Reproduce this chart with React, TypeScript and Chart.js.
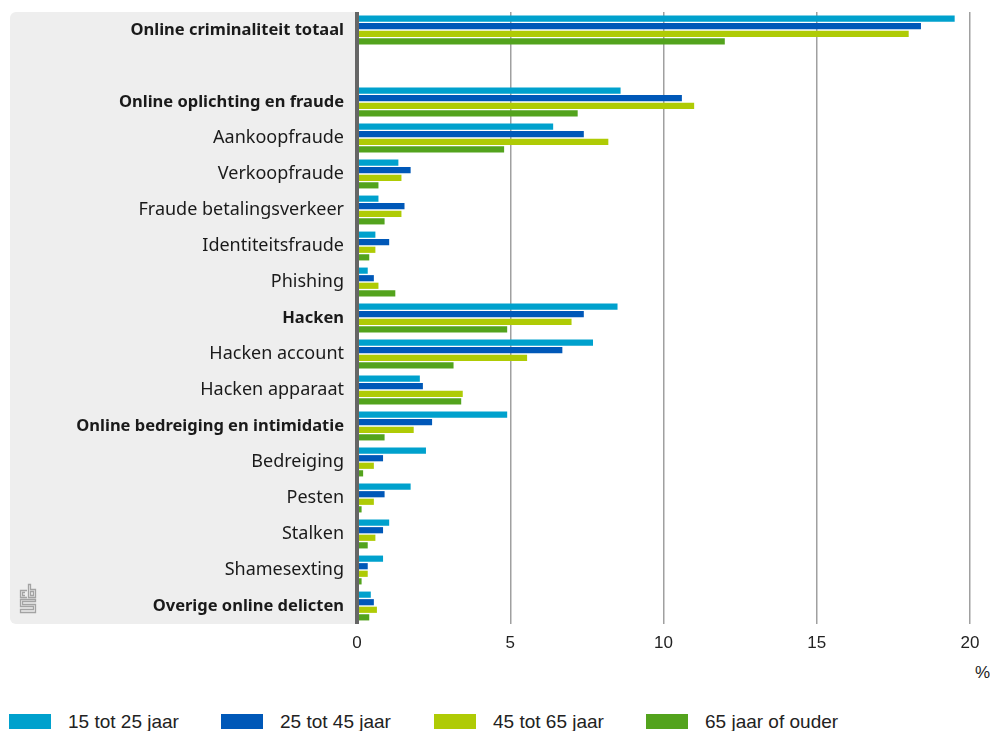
import React, { useEffect, useRef } from "react";
import { Chart, registerables } from "chart.js";

Chart.register(...registerables);

const categories: string[] = [
  "Online criminaliteit totaal",
  "",
  "Online oplichting en fraude",
  "Aankoopfraude",
  "Verkoopfraude",
  "Fraude betalingsverkeer",
  "Identiteitsfraude",
  "Phishing",
  "Hacken",
  "Hacken account",
  "Hacken apparaat",
  "Online bedreiging en intimidatie",
  "Bedreiging",
  "Pesten",
  "Stalken",
  "Shamesexting",
  "Overige online delicten",
];

const boldCategories: string[] = [
  "Online criminaliteit totaal",
  "Online oplichting en fraude",
  "Hacken",
  "Online bedreiging en intimidatie",
  "Overige online delicten",
];

const seriesLabels: string[] = ["15 tot 25 jaar", "25 tot 45 jaar", "45 tot 65 jaar", "65 jaar of ouder"];
const seriesColors: string[] = ["#00a1cd", "#0058b8", "#afcb05", "#53a31d"];

const age15to25: (number | null)[] = [19.5, null, 8.6, 6.4, 1.35, 0.7, 0.6, 0.35, 8.5, 7.7, 2.05, 4.9, 2.25, 1.75, 1.05, 0.85, 0.45];
const age25to45: (number | null)[] = [18.4, null, 10.6, 7.4, 1.75, 1.55, 1.05, 0.55, 7.4, 6.7, 2.15, 2.45, 0.85, 0.9, 0.85, 0.35, 0.55];
const age45to65: (number | null)[] = [18.0, null, 11.0, 8.2, 1.45, 1.45, 0.6, 0.7, 7.0, 5.55, 3.45, 1.85, 0.55, 0.55, 0.6, 0.35, 0.65];
const age65plus: (number | null)[] = [12.0, null, 7.2, 4.8, 0.7, 0.9, 0.4, 1.25, 4.9, 3.15, 3.4, 0.9, 0.2, 0.15, 0.35, 0.15, 0.4];

const xTicks: number[] = [0, 5, 10, 15, 20];

const labelFont = "'Noto Sans', 'Open Sans', sans-serif";
const numFont = "'Liberation Sans', Arial, sans-serif";

const panelPlugin = {
  id: "panelPlugin",
  beforeDraw(chart: any) {
    const ctx = chart.ctx;
    const area = chart.chartArea;
    ctx.save();
    ctx.fillStyle = "#eeeeee";
    ctx.beginPath();
    const x0 = 10;
    const y0 = 12;
    const w = area.left - x0;
    const h = area.bottom - y0;
    (ctx as any).roundRect(x0, y0, w, h, [6, 0, 0, 6]);
    ctx.fill();
    // logo
    ctx.strokeStyle = "#a3a3a3";
    ctx.lineWidth = 1.3;
    ctx.beginPath();
    ctx.moveTo(27, 590.5);
    ctx.lineTo(20.5, 590.5);
    ctx.lineTo(20.5, 597.5);
    ctx.lineTo(27, 597.5);
    ctx.moveTo(25, 592.5);
    ctx.lineTo(22.5, 592.5);
    ctx.lineTo(22.5, 595.5);
    ctx.lineTo(25, 595.5);
    ctx.moveTo(28.5, 584.5);
    ctx.lineTo(28.5, 597.5);
    ctx.lineTo(35.5, 597.5);
    ctx.lineTo(35.5, 589.5);
    ctx.lineTo(30.5, 589.5);
    ctx.lineTo(30.5, 584.5);
    ctx.closePath();
    ctx.moveTo(30.5, 591.5);
    ctx.lineTo(33.5, 591.5);
    ctx.lineTo(33.5, 595.5);
    ctx.lineTo(30.5, 595.5);
    ctx.closePath();
    ctx.moveTo(35.5, 599.5);
    ctx.lineTo(20.5, 599.5);
    ctx.lineTo(20.5, 606.5);
    ctx.lineTo(33.5, 606.5);
    ctx.lineTo(33.5, 609.5);
    ctx.lineTo(20.5, 609.5);
    ctx.lineTo(20.5, 612.5);
    ctx.lineTo(35.5, 612.5);
    ctx.lineTo(35.5, 604.5);
    ctx.lineTo(22.5, 604.5);
    ctx.lineTo(22.5, 601.5);
    ctx.lineTo(35.5, 601.5);
    ctx.closePath();
    ctx.stroke();
    ctx.restore();
  },
  afterDatasetsDraw(chart: any) {
    const ctx = chart.ctx;
    const area = chart.chartArea;
    ctx.save();
    ctx.fillStyle = "#666666";
    ctx.fillRect(area.left - 2, area.top, 4, area.bottom - area.top);
    ctx.restore();
  },
};

export default function App() {
  const canvasRef = useRef<HTMLCanvasElement | null>(null);

  useEffect(() => {
    if (!canvasRef.current) return;
    const series = [age15to25, age25to45, age45to65, age65plus];
    const chart = new Chart(canvasRef.current, {
      type: "bar",
      data: {
        labels: categories,
        datasets: series.map((d, i) => ({
          label: seriesLabels[i],
          data: d,
          backgroundColor: seriesColors[i],
          borderWidth: 0,
          categoryPercentage: 0.84,
          barPercentage: 0.82,
        })),
      },
      options: {
        indexAxis: "y",
        responsive: false,
        animation: false,
        maintainAspectRatio: false,
        layout: { padding: { top: 12, right: 20, left: 0, bottom: 0 } },
        plugins: {
          legend: { display: false },
          tooltip: { enabled: false },
        },
        scales: {
          x: {
            min: 0,
            max: 20,
            afterBuildTicks: (scale: any) => {
              scale.ticks = xTicks.map((v) => ({ value: v }));
            },
            ticks: {
              font: { family: numFont, size: 17 },
              color: "#222222",
              padding: 9,
            },
            grid: { color: "#a0a0a0", lineWidth: 1.5, drawTicks: false },
            border: { display: false },
            afterFit: (scale: any) => {
              scale.height = 36;
            },
          },
          y: {
            grid: { display: false, drawTicks: false },
            border: { display: false },
            ticks: {
              autoSkip: false,
              padding: 13,
              color: "#1a1a1a",
              font: (ctx: any) => {
                const lbl = categories[ctx.index];
                const bold = boldCategories.includes(lbl);
                return {
                  family: labelFont,
                  size: bold ? 16.5 : 18,
                  weight: bold ? "bold" : "normal",
                };
              },
            },
            afterFit: (scale: any) => {
              scale.width = 357;
              scale.paddingTop = 0;
              scale.paddingBottom = 0;
            },
          },
        },
      },
      plugins: [panelPlugin],
    });
    return () => chart.destroy();
  }, []);

  const legendLeft = [9, 221, 434, 646];

  return (
    <div style={{ position: "absolute", left: 0, top: 0, width: 990, height: 731, background: "#ffffff", overflow: "hidden" }}>
      <canvas ref={canvasRef} width={990} height={660} style={{ position: "absolute", left: 0, top: 0, width: 990, height: 660 }} />
      <div style={{ position: "absolute", left: 975, top: 663, fontFamily: numFont, fontSize: 17, color: "#222222" }}>%</div>
      {seriesLabels.map((s, i) => (
        <div key={s} style={{ position: "absolute", left: legendLeft[i], top: 712, height: 19, display: "flex", alignItems: "center" }}>
          <div style={{ width: 42, height: 15, background: seriesColors[i] }} />
          <span style={{ marginLeft: 17, fontFamily: numFont, fontSize: 19, color: "#222222", whiteSpace: "nowrap", lineHeight: "19px" }}>{s}</span>
        </div>
      ))}
    </div>
  );
}
